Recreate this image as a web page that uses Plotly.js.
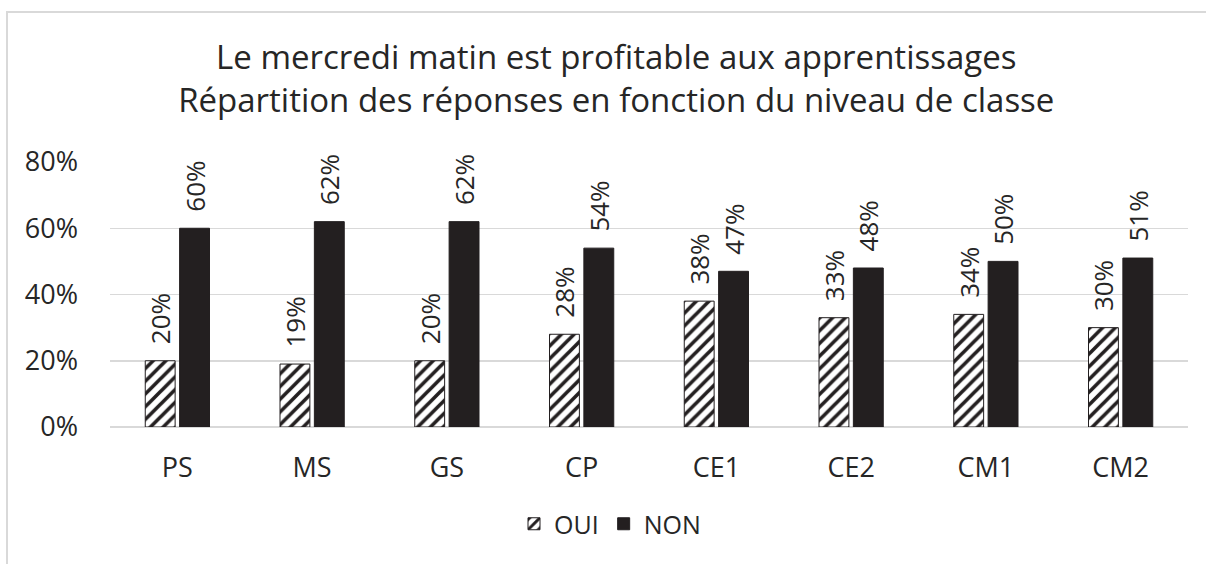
<!DOCTYPE html>
<html>
<head>
<meta charset="utf-8">
<script src="https://cdn.plot.ly/plotly-3.0.1.min.js"></script>
<style>
  html, body { margin: 0; padding: 0; background: #ffffff; }
  #wrap { position: relative; width: 1206px; height: 564px; overflow: hidden; }
  #chart { width: 1206px; height: 564px; }
  #frame { position: absolute; left: 6px; top: 11px; width: 1300px; height: 700px;
           border-top: 2px solid #d9d9d9; border-left: 2px solid #d9d9d9; pointer-events: none; }
</style>
</head>
<body>
<div id="wrap">
  <div id="chart"></div>
  <div id="frame"></div>
</div>
<script>
const categories = ["PS", "MS", "GS", "CP", "CE1", "CE2", "CM1", "CM2"];
const ouiValues = [0.20, 0.19, 0.20, 0.28, 0.38, 0.33, 0.34, 0.30];
const nonValues = [0.60, 0.62, 0.62, 0.54, 0.47, 0.48, 0.50, 0.51];
const seriesNames = ["OUI", "NON"];
const yTickVals = [0, 0.2, 0.4, 0.6, 0.8];
const yTickText = ["0%", "20%", "40%", "60%", "80%"];

const FONT = "'Open Sans', Lato, sans-serif";
const TXT = "#262626";
const LABEL_TEMPLATE = "\u00a0\u00a0%{y:.0%}";

const traces = [
  {
    type: "bar", name: seriesNames[0], x: categories, y: ouiValues,
    texttemplate: LABEL_TEMPLATE, textposition: "outside", textangle: -90,
    textfont: {family: FONT, size: 26, color: TXT},
    cliponaxis: false, constraintext: "none",
    marker: {color: "#ffffff", line: {color: "#231f20", width: 1},
             pattern: {shape: "/", fgcolor: "#231f20", bgcolor: "#ffffff", size: 9, solidity: 0.4}},
    hoverinfo: "skip"
  },
  {
    type: "bar", name: seriesNames[1], x: categories, y: nonValues,
    texttemplate: LABEL_TEMPLATE, textposition: "outside", textangle: -90,
    textfont: {family: FONT, size: 26, color: TXT},
    cliponaxis: false, constraintext: "none",
    marker: {color: "#231f20", line: {color: "#231f20", width: 1}},
    hoverinfo: "skip"
  }
];

const layout = {
  width: 1206, height: 564,
  margin: {l: 110, r: 18, t: 162, b: 137},
  paper_bgcolor: "#ffffff", plot_bgcolor: "#ffffff",
  font: {family: FONT, color: TXT, size: 26},
  title: {
    text: "Le mercredi matin est profitable aux apprentissages<br>Répartition des réponses en fonction du niveau de classe",
    font: {family: FONT, size: 33, color: TXT},
    x: 0.511, xanchor: "center", xref: "container",
    y: 1 - 69/564, yanchor: "top", yref: "container"
  },
  barmode: "group", bargap: 0.49, bargroupgap: 0.13,
  xaxis: {
    type: "category", showgrid: false, showline: false, zeroline: false,
    ticks: "", tickfont: {family: FONT, size: 27, color: TXT}, ticklabelstandoff: 22
  },
  yaxis: {
    range: [0, 0.8], tickvals: yTickVals, ticktext: yTickText,
    showgrid: true, gridcolor: "#d9d9d9", gridwidth: 1.5,
    zeroline: true, zerolinecolor: "#d9d9d9", zerolinewidth: 1.5,
    showline: false, ticks: "", ticklabelstandoff: 31,
    tickfont: {family: FONT, size: 27, color: TXT}, fixedrange: true
  },
  legend: {
    orientation: "h", x: (610 - 110) / 1078, xanchor: "center", xref: "paper",
    y: 40/564, yanchor: "middle", yref: "container",
    font: {family: FONT, size: 25, color: TXT},
    itemwidth: 30, traceorder: "normal"
  },
  showlegend: true
};

Plotly.newPlot("chart", traces, layout, {displayModeBar: false, staticPlot: true});
</script>
</body>
</html>
